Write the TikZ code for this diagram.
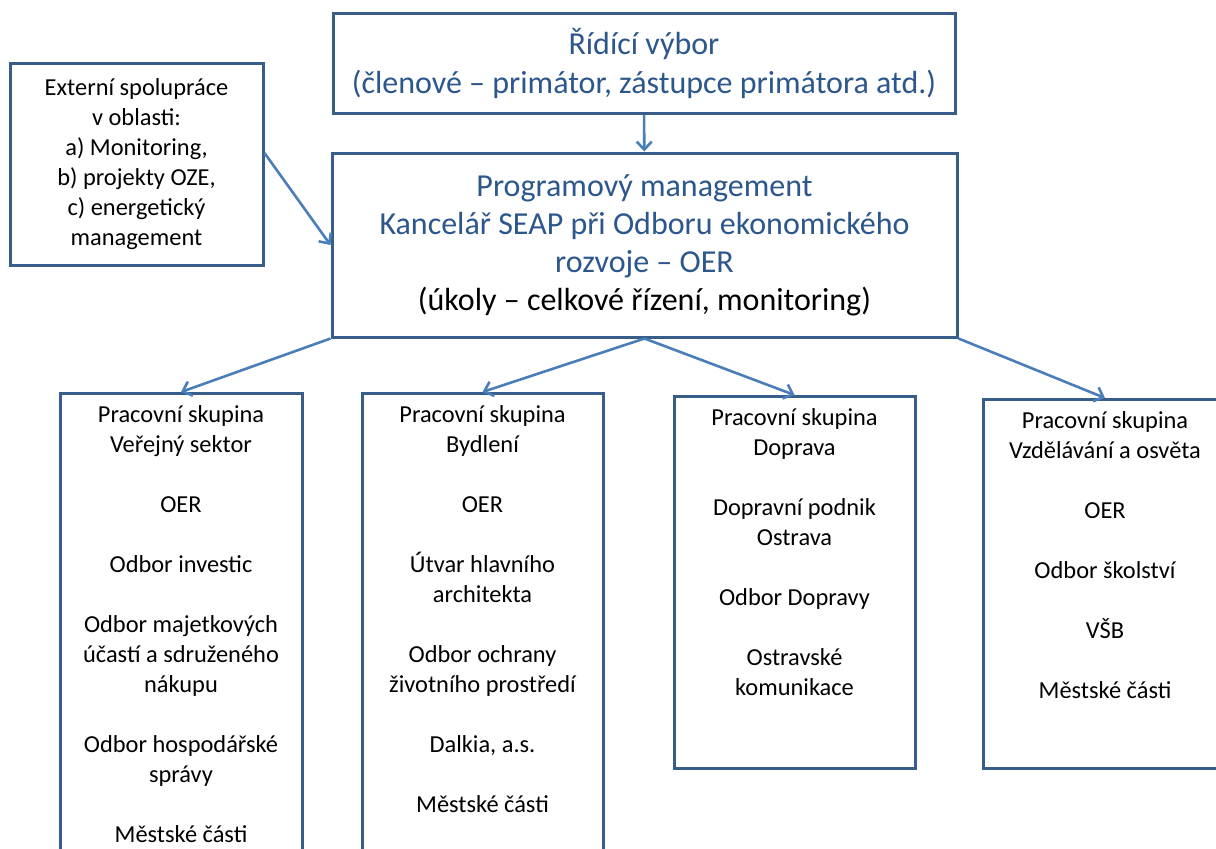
\documentclass[tikz,border=0pt]{standalone}
\usepackage{fontspec}
\setmainfont{Carlito}
\usetikzlibrary{arrows.meta}

\definecolor{ramec}{RGB}{56,93,138}
\definecolor{sipka}{RGB}{74,126,187}
\definecolor{nadpis}{RGB}{44,87,140}

% box of a working group: text from the top
\newcommand{\skupina}[3]{\parbox[t][#1][t]{#2}{\centering\vspace*{4pt}\strut #3}}

\begin{document}
\begin{tikzpicture}[x=0.5pt,y=-0.5pt,
    ramecek/.style={draw=ramec,line width=1.5pt,fill=white,inner sep=0pt},
    velky/.style={ramecek,align=center,text=nadpis,font=\fontsize{16}{19.5}\selectfont},
    maly/.style={ramecek,align=center,font=\fontsize{12.2}{15}\selectfont},
    skup/.style={ramecek,anchor=north,font=\fontsize{12.2}{15}\selectfont},
    sip/.style={draw=sipka,line width=1.3pt,-{Straight Barb[length=4pt,width=7.5pt]}}]
      \useasboundingbox (0,0) rectangle (1216,848);
      \clip (0,0) rectangle (1216,848);
      \fill[white] (0,0) rectangle (1216,848);

      \begin{scope}
        \node[velky,minimum width=311pt,minimum height=50pt] (vybor) at (644,63)
          {Řídící výbor\\(členové – primátor, zástupce primátora atd.)};
        \node[velky,minimum width=312.5pt,minimum height=92pt,font=\fontsize{16}{19}\selectfont] (program) at (644.5,245)
          {Programový management\\Kancelář SEAP při Odboru ekonomického\\rozvoje – OER\\\textcolor{black}{(úkoly – celkové řízení, monitoring)}};
        \node[maly,minimum width=126.5pt,minimum height=101pt] (externi) at (136.5,164)
          {Externí spolupráce\\v oblasti:\\a) Monitoring,\\b) projekty OZE,\\c) energetický\\management};

        \draw[sip] (vybor) -- (program);
        \draw[sip] ([yshift=5.5pt]externi.east) -- (program.west);
      \end{scope}

      \begin{scope}
        \node[skup] (verejny) at (181,392) {\skupina{240pt}{121pt}{Pracovní skupina\\Veřejný sektor\\[15pt]
          OER\\[15pt] Odbor investic\\[15pt] Odbor majetkových\\účastí a sdruženého\\nákupu\\[15pt]
          Odbor hospodářské\\správy\\[15pt] Městské části}};
        \node[skup] (bydleni) at (482.5,392) {\skupina{240pt}{120.5pt}{Pracovní skupina\\Bydlení\\[15pt]
          OER\\[15pt] Útvar hlavního\\architekta\\[15pt] Odbor ochrany\\životního prostředí\\[15pt]
          Dalkia, a.s.\\[15pt] Městské části}};
        \node[skup] (doprava) at (794.5,395) {\skupina{186pt}{120.5pt}{Pracovní skupina\\Doprava\\[15pt]
          Dopravní podnik\\Ostrava\\[15pt] Odbor Dopravy\\[15pt] Ostravské\\komunikace}};
        \node[skup] (osveta) at (1105,398) {\skupina{184.5pt}{122pt}{Pracovní skupina\\Vzdělávání a osvěta\\[15pt]
          OER\\[15pt] Odbor školství\\[15pt] VŠB\\[15pt] Městské části}};

        \draw[sip] (program.south west) -- (verejny.north);
        \draw[sip] (program.south) -- (bydleni.north);
        \draw[sip] (program.south) -- (doprava.north);
        \draw[sip] (program.south east) -- (osveta.north);
      \end{scope}
    \end{tikzpicture}
\end{document}
